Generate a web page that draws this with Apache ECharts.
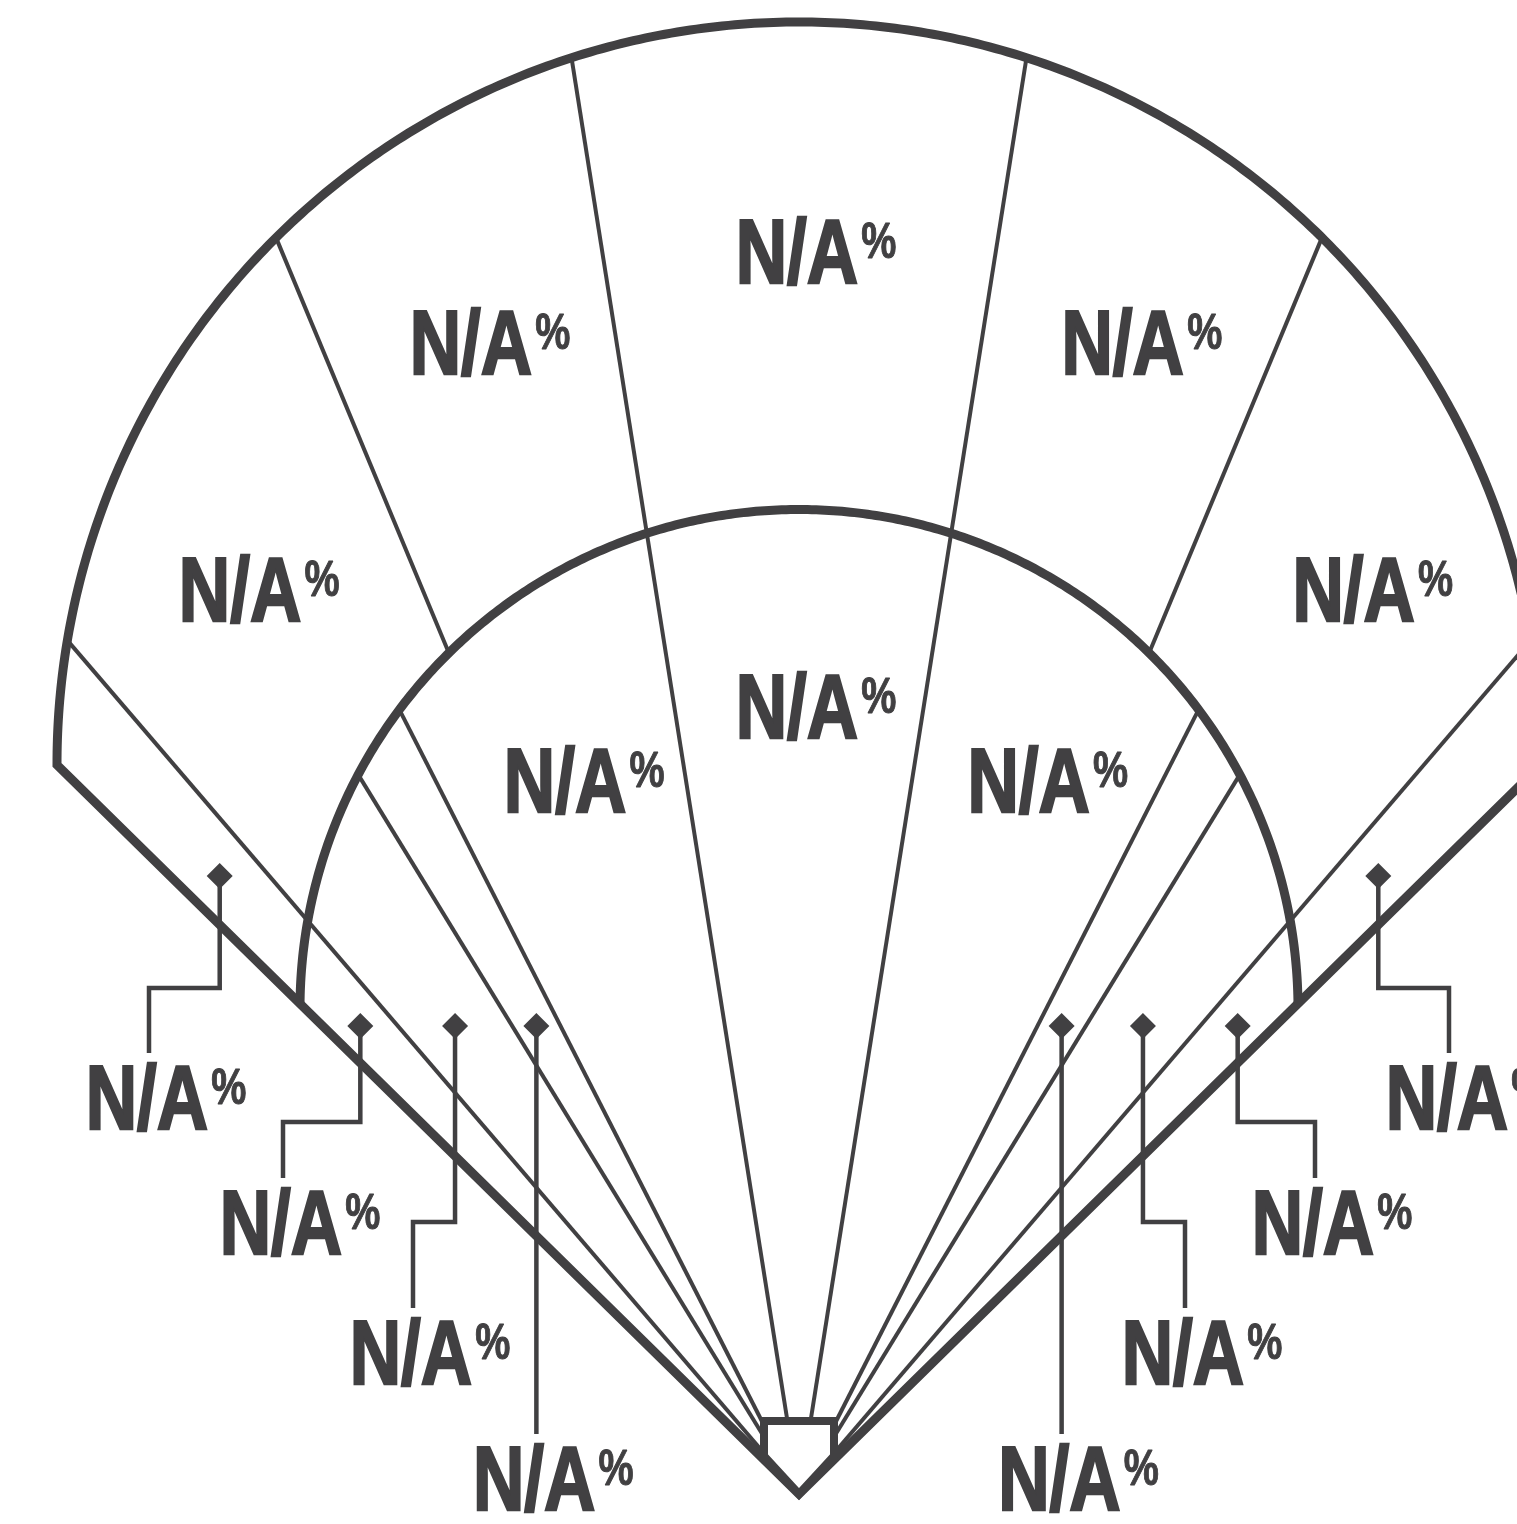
<!DOCTYPE html>
<html>
<head>
    <meta charset="utf-8">
    <script src="https://cdn.jsdelivr.net/npm/echarts@6/dist/echarts.min.js"></script>
</head>
<body style="margin: 0; background: #fff">
    <div id="container" style="width: 1517px; height: 1524px"></div>
    <script type="text/javascript">
        // spray zones; angles are degrees off straightaway centre (negative = left field)
        var outfieldZones = ['Left line', 'Left', 'Left-center', 'Center', 'Right-center', 'Right', 'Right line'];
        var outfieldEdges = [-45.5, -40.6, -22.6, -9, 9, 22.6, 40.6, 45.5];
        var outfieldPct = [null, null, null, null, null, null, null];

        var infieldZones = ['3B line', '3B', 'SS hole', 'Left side', 'Up the middle', 'Right side', '2B hole', '1B', '1B line'];
        var infieldEdges = [-45.5, -40.6, -31.5, -27, -9, 9, 27, 31.5, 40.6, 45.5];
        var infieldPct = [null, null, null, null, null, null, null, null, null];

        // field outline, in axis units: circles centred on the centre line
        var wallArc = { cy: 730, r: 742 };
        var grassArc = { cy: 485.5, r: 499 };
        var plateShape = [[-35, 73], [35, 73], [35, 38], [0, 0], [-35, 38]];

        var INK = '#414042';
        var FONT = '"Liberation Sans", Arial, sans-serif';

        function rad(d) { return d * Math.PI / 180; }
        // distance from home plate to an arc along a spray angle
        function reach(deg, arc) {
            var b = arc.cy * Math.cos(rad(deg));
            return b + Math.sqrt(b * b + arc.r * arc.r - arc.cy * arc.cy);
        }
        function polar(deg, dist) {
            return [dist * Math.sin(rad(deg)), dist * Math.cos(rad(deg))];
        }

        var zones = [];
        outfieldZones.forEach(function (name, i) {
            zones.push({ name: name, ring: 'of', a0: outfieldEdges[i], a1: outfieldEdges[i + 1], value: outfieldPct[i] });
        });
        infieldZones.forEach(function (name, i) {
            zones.push({ name: name, ring: 'if', a0: infieldEdges[i], a1: infieldEdges[i + 1], value: infieldPct[i] });
        });
        zones.forEach(function (z) { z.mid = (z.a0 + z.a1) / 2; });

        var wide = zones.filter(function (z) { return z.a1 - z.a0 >= 10; });
        var narrow = zones.filter(function (z) { return z.a1 - z.a0 < 10; });

        // callout slots, outermost first (mirrored for the right side)
        var slots = [
            { x: 650, y: 397, jog: 506 },
            { x: 516, y: 272, jog: 372 },
            { x: 386, y: 142, jog: 272 },
            { x: null, y: 16 }
        ];
        var pinHeight = { of: 618, 'if': 468 };
        [-1, 1].forEach(function (side) {
            narrow.filter(function (z) { return Math.sign(z.mid) === side; })
                .sort(function (p, q) {
                    if (p.ring !== q.ring) return p.ring === 'of' ? -1 : 1;
                    return Math.abs(q.mid) - Math.abs(p.mid);
                })
                .forEach(function (z, k) { z.side = side; z.slot = k; });
        });

        var RICH = {
            n: { fontSize: 90, fontFamily: FONT, fontWeight: 'bold', fill: INK, stroke: INK, lineWidth: 2.5 },
            p: { fontSize: 50, fontFamily: FONT, fontWeight: 'bold', fill: INK, stroke: INK, lineWidth: 1,
                 verticalAlign: 'top', padding: [6, 0, 0, 4] }
        };
        function pctLabel(pt, v) {
            var txt = v == null ? 'N/A' : String(Math.round(v));
            return {
                type: 'text', x: pt[0] + 17, y: pt[1] + 7, scaleX: 0.79, z2: 20,
                style: { text: '{n|' + txt + '}{p|%}', align: 'center', verticalAlign: 'middle', fill: INK, rich: RICH }
            };
        }

        function renderField(params, api) {
            var children = [];
            var foul = outfieldEdges[outfieldEdges.length - 1];

            // zone dividers
            var edges = {};
            outfieldEdges.slice(1, -1).forEach(function (a) { edges[a] = { of: true }; });
            infieldEdges.slice(1, -1).forEach(function (a) { (edges[a] = edges[a] || {}).inf = true; });
            Object.keys(edges).forEach(function (k) {
                var a = +k, e = edges[k];
                var p0 = api.coord(polar(a, e.inf ? 0 : reach(a, grassArc)));
                var p1 = api.coord(polar(a, e.of ? reach(a, wallArc) : reach(a, grassArc)));
                children.push({
                    type: 'line', z2: 1,
                    shape: { x1: p0[0], y1: p0[1], x2: p1[0], y2: p1[1] },
                    style: { stroke: INK, lineWidth: 4 }
                });
            });

            function arcPts(arc) {
                var pts = [];
                for (var a = -foul; a <= foul + 1e-9; a += 0.25) pts.push(api.coord(polar(a, reach(a, arc))));
                return pts;
            }
            children.push({
                type: 'polyline', z2: 2,
                shape: { points: arcPts(grassArc) },
                style: { stroke: INK, lineWidth: 9, fill: null }
            });
            children.push({
                type: 'polygon', z2: 3,
                shape: { points: [api.coord([0, 0])].concat(arcPts(wallArc)) },
                style: { stroke: INK, lineWidth: 9, fill: null, lineJoin: 'miter', miterLimit: 4 }
            });
            children.push({
                type: 'polygon', z2: 4,
                shape: { points: plateShape.map(function (p) { return api.coord(p); }) },
                style: { stroke: INK, lineWidth: 8, fill: '#fff', lineJoin: 'miter' }
            });
            return { type: 'group', children: children };
        }

        function renderZoneLabel(params, api) {
            var z = wide[params.dataIndex];
            var dist;
            if (z.ring === 'of') {
                var r0 = reach(z.mid, grassArc), r1 = reach(z.mid, wallArc);
                dist = r0 + 0.53 * (r1 - r0);
            } else {
                dist = 0.80 * reach(z.mid, grassArc);
            }
            return pctLabel(api.coord(polar(z.mid, dist)), z.value);
        }

        function renderCallout(params, api) {
            var z = narrow[params.dataIndex];
            var s = slots[z.slot];
            var y = pinHeight[z.ring];
            var x = y * (Math.tan(rad(z.a0)) + Math.tan(rad(z.a1))) / 2;
            var lx = s.x == null ? x : z.side * s.x;
            var path = s.x == null
                ? [[x, y], [x, s.y + 44]]
                : [[x, y], [x, s.jog], [lx, s.jog], [lx, s.y + 44]];
            var pin = api.coord([x, y]);
            var d = 13;
            return {
                type: 'group',
                children: [
                    {
                        type: 'polyline', z2: 10,
                        shape: { points: path.map(function (p) { return api.coord(p); }) },
                        style: { stroke: INK, lineWidth: 4.5, fill: null, lineJoin: 'miter' }
                    },
                    {
                        type: 'polygon', z2: 11,
                        shape: { points: [[pin[0], pin[1] - d], [pin[0] + d, pin[1]], [pin[0], pin[1] + d], [pin[0] - d, pin[1]]] },
                        style: { fill: INK }
                    },
                    pctLabel(api.coord([lx, s.y]), z.value)
                ]
            };
        }

        var chart = echarts.init(document.getElementById('container'));
        var option = {
            animation: false,
            grid: { left: 0, right: 0, top: 0, bottom: 0 },
            xAxis: { type: 'value', min: -799, max: 718, show: false },
            yAxis: { type: 'value', min: -30, max: 1494, show: false },
            series: [
                {
                    type: 'custom', name: 'field', silent: true,
                    data: [[0, 0]],
                    renderItem: renderField
                },
                {
                    type: 'custom', name: 'zones', silent: true,
                    data: wide.map(function (z) { return { name: z.name, value: [z.mid, z.ring === 'of' ? 1 : 0] }; }),
                    renderItem: renderZoneLabel
                },
                {
                    type: 'custom', name: 'callouts', silent: true,
                    data: narrow.map(function (z) { return { name: z.name, value: [z.mid, z.ring === 'of' ? 1 : 0] }; }),
                    renderItem: renderCallout
                }
            ]
        };
        chart.setOption(option);
    </script>
</body>
</html>
